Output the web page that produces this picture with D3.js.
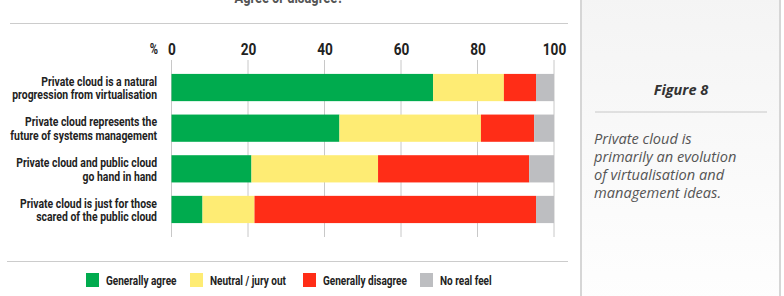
<!DOCTYPE html>
<html>
<head>
<meta charset="utf-8">
<script src="https://cdn.jsdelivr.net/npm/d3@7"></script>
<style>
  body { margin: 0; background: #fff; }
  svg { display: block; }
  .cond { font-family: "Roboto", sans-serif; font-weight: bold; }
</style>
</head>
<body>
<svg id="chart" width="784" height="296"></svg>
<script>
const statements = [
  ["Private cloud is a natural", "progression from virtualisation"],
  ["Private cloud represents the", "future of systems management"],
  ["Private cloud and public cloud", "go hand in hand"],
  ["Private cloud is just for those", "scared of the public cloud"]
];
const seriesNames = ["Generally agree", "Neutral / jury out", "Generally disagree", "No real feel"];
const agree    = [68.4, 43.9, 20.9, 8.1];
const neutral  = [18.5, 37.0, 33.1, 13.6];
const disagree = [8.4, 13.9, 39.5, 73.6];
const noFeel   = [4.7, 5.2, 6.5, 4.7];
const tickVals = [0, 20, 40, 60, 80, 100];
const colors = ["#00ab4e", "#feec74", "#ff2d17", "#bdbec1"];

const svg = d3.select("#chart");

// no condensed face installed, so squeeze bold Roboto horizontally
const probe = svg.append("text").attr("class", "cond").style("font-size", "13px")
  .text("progression from virtualisation");
const squeeze = 145 / probe.node().getComputedTextLength();
probe.remove();
const condense = (sel, ax) => sel.attr("transform", `translate(${ax},0) scale(${squeeze},1) translate(${-ax},0)`);

// side panel
const defs = svg.append("defs");
const grad = defs.append("linearGradient").attr("id", "panelGrad")
  .attr("x1", 0).attr("y1", 0).attr("x2", 0).attr("y2", 1);
grad.append("stop").attr("offset", "0%").attr("stop-color", "#f4f4f4");
grad.append("stop").attr("offset", "100%").attr("stop-color", "#fefefe");

svg.append("rect")
  .attr("x", 581).attr("y", -5).attr("width", 199).attr("height", 310)
  .attr("fill", "url(#panelGrad)")
  .attr("stroke", "#d6d6d6").attr("stroke-width", 2);

svg.append("text")
  .attr("x", 681).attr("y", 95)
  .attr("text-anchor", "middle")
  .style("font-family", "'Open Sans', sans-serif")
  .style("font-weight", "bold").style("font-style", "italic")
  .style("font-size", "14.5px").attr("fill", "#333")
  .text("Figure 8");

svg.append("line")
  .attr("x1", 595).attr("x2", 767).attr("y1", 112).attr("y2", 112)
  .attr("stroke", "#c8c8c8").attr("stroke-width", 1);

const note = ["Private cloud is", "primarily an evolution", "of virtualisation and", "management ideas."];
svg.append("text")
  .style("font-family", "'Open Sans', sans-serif")
  .style("font-style", "italic").style("font-size", "14.6px")
  .attr("fill", "#555")
  .selectAll("tspan").data(note).join("tspan")
  .attr("x", 594).attr("y", (d, i) => 144 + i * 18)
  .text(d => d);

// chart title and rules
svg.append("text").attr("class", "cond")
  .attr("x", 289).attr("y", 3).attr("text-anchor", "middle")
  .style("font-size", "16px").attr("fill", "#555")
  .text("Agree or disagree?")
  .call(condense, 289);

svg.append("line").attr("x1", 10).attr("x2", 568).attr("y1", 23.5).attr("y2", 23.5)
  .attr("stroke", "#ccc");
svg.append("line").attr("x1", 7).attr("x2", 568).attr("y1", 261.5).attr("y2", 261.5)
  .attr("stroke", "#ccc");

// scales
const x = d3.scaleLinear().domain([0, 100]).range([171.5, 554]);
const y = d3.scaleBand().domain(d3.range(statements.length)).range([67, 230]).paddingInner(0.33).paddingOuter(0.17);

// grid
svg.append("g").selectAll("line").data(tickVals).join("line")
  .attr("x1", d => x(d)).attr("x2", d => x(d))
  .attr("y1", 60).attr("y2", 237)
  .attr("stroke", "#c8c8c8").attr("stroke-width", 1);

// top axis
const xAxis = svg.append("g")
  .attr("transform", "translate(0,55)")
  .call(d3.axisTop(x).tickValues(tickVals).tickSize(0).tickPadding(0));
xAxis.select(".domain").remove();
xAxis.selectAll("text")
  .style("font-family", "Roboto, sans-serif")
  .style("font-weight", "bold").style("font-size", "17px").attr("fill", "#222")
  .call(condense, 0);

svg.append("text").attr("class", "cond")
  .attr("x", 158).attr("y", 54).attr("text-anchor", "end")
  .style("font-size", "14px").attr("fill", "#222").text("%")
  .call(condense, 158);

// stacked bars
const rows = statements.map((s, i) => ({ i, agree: agree[i], neutral: neutral[i], disagree: disagree[i], noFeel: noFeel[i] }));
const stack = d3.stack().keys(["agree", "neutral", "disagree", "noFeel"]);
const layers = stack(rows);

svg.append("g").selectAll("g").data(layers).join("g")
  .attr("fill", (d, k) => colors[k])
  .selectAll("rect").data(d => d).join("rect")
  .attr("x", d => x(d[0]))
  .attr("width", d => x(d[1]) - x(d[0]))
  .attr("y", (d, i) => y(i))
  .attr("height", y.bandwidth());

// category labels
svg.append("g").selectAll("text").data(statements).join("text")
  .attr("class", "cond")
  .attr("text-anchor", "end")
  .style("font-size", "13px").attr("fill", "#222")
  .call(condense, 157)
  .each(function (d, i) {
    const c = y(i) + y.bandwidth() / 2;
    d3.select(this).selectAll("tspan").data(d).join("tspan")
      .attr("x", 157).attr("y", (t, j) => c - 1.8 + j * 13.5)
      .text(t => t);
  });

// legend
const legendX = [86, 190, 303, 420];
const legend = svg.append("g").selectAll("g").data(seriesNames).join("g")
  .attr("transform", (d, i) => `translate(${legendX[i]},273)`);
legend.append("rect").attr("width", 13).attr("height", 14)
  .attr("fill", (d, i) => colors[i]);
legend.append("text").attr("class", "cond")
  .attr("x", 20).attr("y", 11.5)
  .style("font-size", "12.5px").attr("fill", "#222")
  .text(d => d)
  .call(condense, 20);
</script>
</body>
</html>
